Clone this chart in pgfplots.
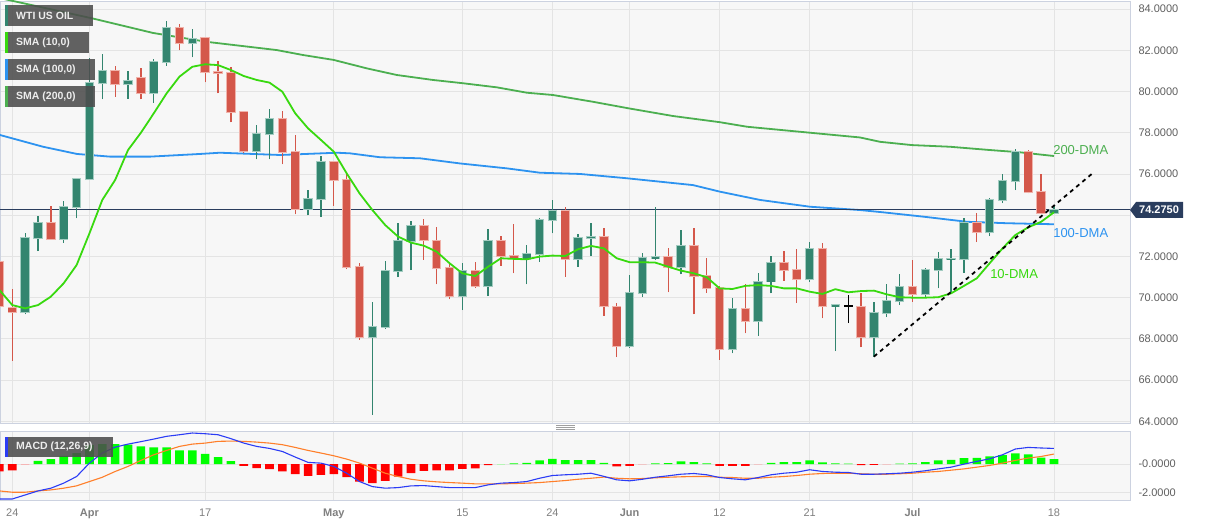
\documentclass[border=0pt]{standalone}
\usepackage{fontspec}
\setmainfont{Liberation Sans}
\usepackage{pgfplots}
\usepackage{pgfplotstable}
\pgfplotsset{compat=1.18}

\definecolor{panelbg}{HTML}{F7F7F7}
\definecolor{gridcol}{HTML}{E4E4E4}
\definecolor{framecol}{HTML}{CCD2E0}
\definecolor{ticklab}{HTML}{5F5F5F}
\definecolor{datelab}{HTML}{808080}
\definecolor{upcol}{HTML}{33856F}
\definecolor{uppale}{HTML}{A3CCC1}
\definecolor{dncol}{HTML}{D4574A}
\definecolor{dnpale}{HTML}{F0B3AB}
\definecolor{sma10}{HTML}{38D90F}
\definecolor{sma100}{HTML}{2D93F0}
\definecolor{sma200}{HTML}{4CAF50}
\definecolor{navy}{HTML}{2A3D5E}
\definecolor{macdblue}{HTML}{2B3CF5}
\definecolor{macdorange}{HTML}{FF7F2A}
\definecolor{histgreen}{HTML}{00FF00}
\definecolor{histred}{HTML}{FF0000}
\definecolor{histpink}{HTML}{F5B5B5}
\definecolor{histpalegreen}{HTML}{B5F5B5}
\definecolor{boxcol}{HTML}{4D4D4D}

% daily candles, x = trading day index (0 = 24 Mar)
\pgfplotstableread{
i o h l c
1 69.29 73.12 69.19 72.91
2 72.91 73.98 72.26 73.64
4 72.86 74.69 72.67 74.40
5 74.41 75.82 73.85 75.76
6 75.76 81.61 75.76 80.43
7 80.43 81.80 79.62 81.01
9 80.36 80.99 79.65 80.49
11 79.94 81.56 79.46 81.41
12 81.41 83.42 81.24 83.09
14 82.34 83.02 81.66 82.53
19 77.11 78.36 76.71 77.92
20 77.92 79.14 76.71 78.65
23 74.30 75.22 73.99 74.77
24 74.77 76.87 73.90 76.57
28 68.11 69.79 64.31 68.59
29 68.59 71.78 68.47 71.29
30 71.29 73.61 70.99 72.75
31 72.75 73.72 71.34 73.48
35 70.08 71.67 69.40 71.31
37 70.57 73.32 70.08 72.73
40 71.86 72.54 70.65 72.10
41 72.10 73.85 71.74 73.77
42 73.77 74.74 73.12 74.20
44 71.86 73.07 71.50 72.91
45 72.91 73.61 72.02 72.94
48 67.66 71.10 67.57 70.21
49 70.21 72.18 70.05 71.91
50 71.91 74.38 71.83 71.97
52 71.50 73.28 71.13 72.52
56 67.50 69.97 67.30 69.44
58 68.88 71.18 68.16 70.78
59 70.78 72.02 70.21 71.67
62 70.89 72.69 70.77 72.36
64 69.60 69.69 67.41 69.63
67 68.08 69.80 67.14 69.24
68 69.24 70.65 69.05 69.84
69 69.84 71.15 69.64 70.50
71 70.18 71.45 70.00 71.34
72 71.34 72.20 70.45 71.86
73 71.86 72.36 70.21 71.89
74 71.88 73.85 71.21 73.64
76 73.17 74.85 72.99 74.74
77 74.74 76.00 74.58 75.67
78 75.67 77.20 75.22 77.08
81 74.09 74.45 74.06 74.275
}\upcandles

\pgfplotstableread{
i o h l c
-1 71.75 72.00 69.20 69.60
0 69.50 70.42 66.93 69.30
3 73.64 74.43 72.80 72.86
8 81.01 81.25 79.75 80.36
10 80.67 81.15 79.62 79.94
13 83.09 83.27 82.00 82.34
15 82.58 82.63 80.44 80.96
16 80.96 81.49 79.91 80.90
17 80.88 81.20 78.50 79.02
18 78.99 79.05 77.00 77.11
21 78.65 79.05 76.47 77.05
22 77.05 77.89 74.04 74.30
25 76.57 76.60 74.46 75.69
26 75.69 76.03 71.38 71.49
27 71.49 71.70 67.95 68.11
32 73.48 73.82 71.83 72.78
33 72.76 73.44 70.65 71.45
34 71.42 71.74 69.92 70.08
36 71.29 71.74 70.46 70.57
38 72.73 72.99 71.54 72.02
39 72.02 73.56 71.18 71.94
43 74.20 74.40 71.02 71.86
46 72.94 73.39 69.11 69.60
47 69.56 69.73 67.11 67.66
51 71.99 72.39 70.26 71.50
53 72.52 73.36 69.19 71.07
54 71.05 71.91 70.24 70.48
55 70.45 70.57 66.98 67.50
57 69.44 70.66 68.27 68.88
60 71.67 72.26 70.82 71.34
61 71.34 72.36 69.76 70.89
63 72.36 72.64 69.00 69.60
66 69.56 70.21 67.59 68.08
70 70.50 71.83 69.80 70.18
75 73.64 74.09 72.69 73.17
79 77.05 77.16 75.06 75.11
80 75.14 76.00 74.09 74.09
}\dncandles

\pgfplotstableread{
i o h l c
65 69.60 70.13 68.76 69.60
}\flatcandle

\pgfplotstableread{
i v
-1 70.37
0 69.64
1 69.48
2 69.64
3 70.05
4 70.70
5 71.58
6 73.12
7 74.74
8 75.71
9 77.16
10 78.00
11 78.94
12 79.91
13 80.72
14 81.20
15 81.32
16 81.28
17 81.04
18 80.75
19 80.56
20 80.43
21 79.99
22 78.94
23 78.21
24 77.65
25 77.08
26 76.03
27 75.06
28 74.25
29 73.52
30 72.96
31 72.67
32 72.52
33 72.23
34 71.67
35 71.18
36 71.05
37 71.50
38 71.91
39 71.88
40 71.86
41 71.99
42 72.04
43 72.02
44 72.35
45 72.51
46 72.39
47 71.91
48 71.72
49 71.72
50 71.70
51 71.50
52 71.31
53 71.18
54 70.99
55 70.45
56 70.42
57 70.57
58 70.61
59 70.57
60 70.45
61 70.45
62 70.29
63 70.18
64 70.41
65 70.26
66 70.32
67 70.34
68 70.16
69 70.02
70 70.00
71 70.00
72 70.02
73 70.21
74 70.57
75 70.94
76 71.67
77 72.39
78 73.04
79 73.41
80 73.68
81 74.14
}\smaten

\pgfplotstableread{
i v
-1 0
0 0
2 0.23
3 0.35
4 0.58
5 0.77
6 1.32
7 1.39
8 1.39
9 1.35
10 1.23
11 1.16
12 1.16
13 0.95
14 0.95
15 0.72
16 0.49
17 0.21
39 0.05
40 0.09
41 0.26
42 0.37
43 0.28
44 0.28
45 0.28
46 0.09
50 0.05
51 0.07
52 0.19
53 0.14
54 0.05
59 0.09
60 0.14
61 0.14
62 0.26
63 0.12
64 0.05
65 0.03
69 0.04
70 0.05
71 0.14
72 0.26
73 0.30
74 0.42
75 0.44
76 0.53
77 0.63
78 0.74
79 0.67
80 0.46
81 0.35
}\histpos

\pgfplotstableread{
i v
-1 -0.51
0 -0.44
18 -0.12
19 -0.28
20 -0.35
21 -0.51
22 -0.70
23 -0.81
24 -0.74
25 -0.70
26 -0.91
27 -1.21
28 -1.32
29 -1.16
30 -0.86
31 -0.63
32 -0.46
33 -0.44
34 -0.44
35 -0.33
36 -0.30
37 -0.07
47 -0.16
48 -0.12
55 -0.12
56 -0.12
57 -0.12
66 -0.07
67 -0.05
}\histneg

\pgfplotstableread{
i v
-1 -2.42
0 -2.42
1 -2.14
2 -1.86
3 -1.67
4 -1.32
5 -0.86
6 0.07
7 0.77
8 1.18
9 1.39
10 1.56
11 1.74
12 1.93
13 2.04
14 2.16
15 2.11
16 2.04
17 1.77
18 1.46
19 1.23
20 1.09
21 0.88
22 0.49
23 0.12
24 0.07
25 -0.16
26 -0.63
27 -1.21
28 -1.56
29 -1.67
30 -1.63
31 -1.51
32 -1.49
33 -1.56
34 -1.63
35 -1.63
36 -1.63
37 -1.44
38 -1.32
39 -1.28
40 -1.21
41 -0.98
42 -0.79
43 -0.74
44 -0.70
45 -0.63
46 -0.85
47 -1.09
48 -1.16
49 -1.05
50 -0.91
51 -0.81
52 -0.70
53 -0.65
54 -0.74
55 -0.93
56 -1.02
57 -1.09
58 -0.93
59 -0.74
60 -0.63
61 -0.56
62 -0.39
63 -0.51
64 -0.56
65 -0.58
66 -0.70
67 -0.70
68 -0.67
69 -0.63
70 -0.56
71 -0.46
72 -0.33
73 -0.21
74 0.00
75 0.19
76 0.37
77 0.65
78 1.05
79 1.16
80 1.12
81 1.09
}\macdline

\pgfplotstableread{
i v
-1 -1.86
0 -1.95
1 -1.95
2 -1.86
3 -1.79
4 -1.67
5 -1.51
6 -1.21
7 -0.91
8 -0.51
9 -0.16
10 0.26
11 0.65
12 0.95
13 1.23
14 1.39
15 1.46
16 1.58
17 1.60
18 1.58
19 1.53
20 1.46
21 1.35
22 1.16
23 0.95
24 0.77
25 0.58
26 0.35
27 0.07
28 -0.28
29 -0.63
30 -0.86
31 -1.05
32 -1.16
33 -1.23
34 -1.28
35 -1.32
36 -1.37
37 -1.37
38 -1.37
39 -1.35
40 -1.32
41 -1.28
42 -1.21
43 -1.14
44 -1.05
45 -0.98
46 -0.90
47 -0.98
48 -1.02
49 -1.00
50 -0.95
51 -0.91
52 -0.88
53 -0.86
54 -0.86
55 -0.91
56 -0.93
57 -0.98
58 -0.98
59 -0.91
60 -0.86
61 -0.79
62 -0.70
63 -0.65
64 -0.63
65 -0.63
66 -0.67
67 -0.70
68 -0.70
69 -0.67
70 -0.63
71 -0.56
72 -0.51
73 -0.42
74 -0.33
75 -0.21
76 -0.09
77 0.07
78 0.26
79 0.42
80 0.53
81 0.70
}\signalline

\pgfplotsset{
  panel/.style={
    anchor=south west, scale only axis, width=1130pt,
    xmin=-0.956, xmax=86.91,
    axis background/.style={fill=panelbg},
    axis line style={draw=framecol, line width=0.8pt},
    xtick={0,6,15,25,35,42,48,55,62,70,81},
    yticklabel pos=right,
    yticklabel style={font=\fontsize{11}{13}\selectfont, text=ticklab, anchor=west, xshift=5pt},
    grid=major, major grid style={draw=gridcol, line width=0.9pt},
    major tick length=0pt,
  },
  wick/.style={draw=none, no markers, forget plot,
    error bars/.cd, y dir=plus, y explicit, error mark=none,
    error bar style={line width=1.3pt, draw=#1}},
  body/.style 2 args={draw=none, no markers, forget plot,
    error bars/.cd, y dir=both, y explicit, error mark=none,
    error bar style={line width=#2, draw=#1}},
}

\begin{document}
\begin{tikzpicture}
\fill[white] (0pt,0pt) rectangle (1207pt,526pt);
\useasboundingbox (0pt,0pt) rectangle (1207pt,526pt);

\begin{axis}[panel, at={(0pt,103pt)}, height=422pt,
  ymin=63.92, ymax=84.39,
  xticklabels={},
  ytick={64,66,68,70,72,74,76,78,80,82,84},
  yticklabels={64.0000,66.0000,68.0000,70.0000,72.0000,74.0000,76.0000,78.0000,80.0000,82.0000,84.0000},
]
% moving averages
\addplot[sma200, line width=1.8pt] coordinates {(-0.96,84.53) (6.2,83.55) (10.94,82.84) (15.1,82.41) (20.56,82.01) (22.6,81.77) (25.0,81.53) (27.58,81.12) (29.9,80.80) (32.7,80.56) (35.05,80.40) (37.69,80.20) (40.02,79.94) (42.04,79.83) (45.16,79.50) (47.95,79.18) (51.38,78.81) (55.03,78.51) (57.13,78.29) (62.03,78.0) (65.92,77.77) (67.47,77.56) (69.96,77.40) (72.9,77.32) (76.03,77.16) (78.36,77.05) (81,76.87)};
\addplot[sma100, line width=1.8pt] coordinates {(-0.96,77.89) (2.39,77.32) (5.03,76.97) (7.6,76.84) (10.71,76.84) (14.6,76.97) (16.15,77.03) (20.82,76.92) (25.25,77.03) (26.26,77.0) (28.6,76.81) (31.7,76.76) (34.81,76.51) (38.47,76.27) (41.03,76.06) (44.15,76.0) (47.8,75.79) (52.93,75.46) (55.03,75.14) (58.14,74.74) (62.03,74.41) (65.92,74.25) (67.7,74.14) (70.82,73.93) (74.24,73.68) (77.35,73.61) (81,73.56)};
% last price
\addplot[navy, line width=0.9pt] coordinates {(-2,74.275) (90,74.275)};
% candles
\addplot[wick=upcol] table[x=i, y=l, y error expr=\thisrow{h}-\thisrow{l}] {\upcandles};
\addplot[wick=dncol] table[x=i, y=l, y error expr=\thisrow{h}-\thisrow{l}] {\dncandles};
\addplot[wick=black] table[x=i, y=l, y error expr=\thisrow{h}-\thisrow{l}] {\flatcandle};
\addplot[body={uppale}{9.4pt}] table[x=i, y expr=(\thisrow{o}+\thisrow{c})/2, y error expr=abs(\thisrow{c}-\thisrow{o})/2+0.045] {\upcandles};
\addplot[body={dnpale}{9.4pt}] table[x=i, y expr=(\thisrow{o}+\thisrow{c})/2, y error expr=abs(\thisrow{c}-\thisrow{o})/2+0.045] {\dncandles};
\addplot[body={upcol}{7.6pt}] table[x=i, y expr=(\thisrow{o}+\thisrow{c})/2, y error expr=abs(\thisrow{c}-\thisrow{o})/2] {\upcandles};
\addplot[body={dncol}{7.6pt}] table[x=i, y expr=(\thisrow{o}+\thisrow{c})/2, y error expr=abs(\thisrow{c}-\thisrow{o})/2] {\dncandles};
\addplot[body={black}{9pt}] table[x=i, y=o, y error expr=0.04] {\flatcandle};
% 10-DMA on top
\addplot[sma10, line width=1.8pt] table[x=i, y=v] {\smaten};
% trend line
\addplot[black, line width=1.8pt, dash pattern=on 4pt off 4pt] coordinates {(67,67.14) (83.94,76.0)};
\node[anchor=west, text=sma200, font=\fontsize{13}{15}\selectfont, inner sep=0pt] at (axis cs:80.93,77.16) {200-DMA};
\node[anchor=west, text=sma100, font=\fontsize{13}{15}\selectfont, inner sep=0pt] at (axis cs:80.93,73.14) {100-DMA};
\node[anchor=west, text=sma10, font=\fontsize{13}{15}\selectfont, inner sep=0pt] at (axis cs:76.03,71.15) {10-DMA};
\end{axis}

\begin{axis}[panel, at={(0pt,26pt)}, height=69pt,
  ymin=-2.49, ymax=2.30,
  xticklabels={24,\textbf{Apr},17,\textbf{May},15,24,\textbf{Jun},12,21,\textbf{Jul},18},
  xticklabel style={font=\fontsize{11}{13}\selectfont, text=datelab, anchor=base, yshift=-17pt},
  ytick={-2,0}, yticklabels={-2.0000,-0.0000},
]
\addplot[ybar, bar width=8.6pt, bar shift=0pt, fill=histgreen, draw=none] table[x=i, y=v] {\histpos};
\addplot[ybar, bar width=8.6pt, bar shift=0pt, fill=histred, draw=none] table[x=i, y=v] {\histneg};
\addplot[ybar, bar width=8.6pt, bar shift=0pt, fill=histpink, draw=none] coordinates {(1,-0.05) (49,-0.03) (58,-0.03) (68,-0.03)};
\addplot[ybar, bar width=8.6pt, bar shift=0pt, fill=histpalegreen, draw=none] coordinates {(38,0.03)};
\addplot[macdorange, line width=1.1pt] table[x=i, y=v] {\signalline};
\addplot[macdblue, line width=1.1pt] table[x=i, y=v] {\macdline};
\end{axis}

% pane separator handle
\draw[gray!75, line width=0.7pt] (556pt,101pt) -- (575pt,101pt) (556pt,99pt) -- (575pt,99pt) (556pt,97pt) -- (575pt,97pt);

% last price tag
\fill[navy] (1130pt,316pt) -- (1136pt,324pt) -- (1183pt,324pt) -- (1183pt,308pt) -- (1136pt,308pt) -- cycle;
\node[text=white, font=\bfseries\fontsize{11}{13}\selectfont, inner sep=0pt] at (1159pt,316pt) {74.2750};

% indicator boxes
\begin{scope}[font=\bfseries\fontsize{10.5}{12}\selectfont]
\fill[boxcol, fill opacity=0.88] (5pt,500pt) rectangle (93pt,521pt);
\fill[upcol] (5pt,500pt) rectangle (7.5pt,521pt);
\node[anchor=west, text=white!93!black, inner sep=0pt] at (16pt,510.5pt) {WTI US OIL};
\fill[boxcol, fill opacity=0.88] (5pt,473pt) rectangle (89pt,494pt);
\fill[sma10] (5pt,473pt) rectangle (7.5pt,494pt);
\node[anchor=west, text=white!93!black, inner sep=0pt] at (16pt,483.5pt) {SMA (10,0)};
\fill[boxcol, fill opacity=0.88] (5pt,446pt) rectangle (95pt,467pt);
\fill[sma100] (5pt,446pt) rectangle (7.5pt,467pt);
\node[anchor=west, text=white!93!black, inner sep=0pt] at (16pt,456.5pt) {SMA (100,0)};
\fill[boxcol, fill opacity=0.88] (5pt,419pt) rectangle (95pt,440pt);
\fill[sma200] (5pt,419pt) rectangle (7.5pt,440pt);
\node[anchor=west, text=white!93!black, inner sep=0pt] at (16pt,429.5pt) {SMA (200,0)};
\fill[boxcol, fill opacity=0.88] (5pt,69pt) rectangle (113pt,89pt);
\fill[macdblue] (5pt,69pt) rectangle (7.5pt,89pt);
\node[anchor=west, text=white!93!black, inner sep=0pt] at (16pt,79pt) {MACD (12,26,9)};
\end{scope}
\end{tikzpicture}
\end{document}
